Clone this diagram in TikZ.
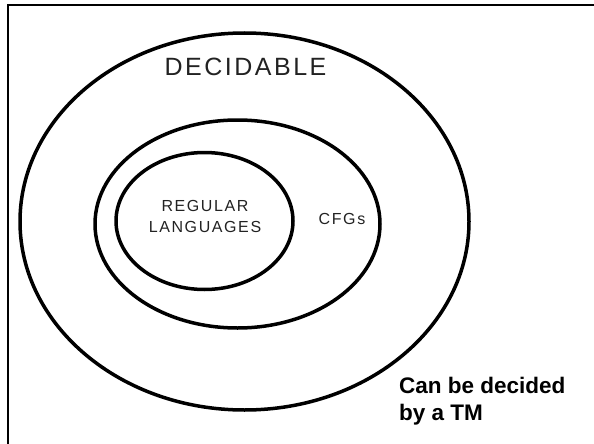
\documentclass[tikz,border=0pt]{standalone}
\usepackage{fontspec}
\setmainfont{Liberation Sans}
\newfontfamily\vennfont[LetterSpace=10]{Liberation Sans}
\usepackage{tikz}
\definecolor{labelgray}{RGB}{34,34,34}

\begin{document}
\begin{tikzpicture}[x=1pt,y=1pt]
\tikzstyle{every node}+=[inner sep=0pt]
\tikzstyle{venn}=[black, line width=3.5pt]
\tikzstyle{setlabel}=[labelgray, align=center]
\useasboundingbox (0,0) rectangle (594,-444);
\draw [black, line width=1.5pt] (8,-444) -- (8,-5) -- (594,-5);
\draw [venn] (244.5,-221.5) ellipse (224.5pt and 188.5pt);
\draw [venn] (237.5,-224) ellipse (142.5pt and 104pt);
\draw [venn] (204.5,-221) ellipse (88.5pt and 68.5pt);
\draw (245.5,-67) node (decidable) [setlabel, font=\vennfont\fontsize{25}{30}\selectfont] {DECIDABLE};
\draw (205,-216.5) node (regular) [setlabel, font=\vennfont\fontsize{16}{20.5}\selectfont] {REGULAR\\LANGUAGES};
\draw (342,-219) node (cfgs) [setlabel, font=\vennfont\fontsize{16}{20}\selectfont] {CFGs};
\draw (399,-377) node (tm) [anchor=north west, align=left, font=\bfseries\fontsize{22.5}{27}\selectfont] {Can be decided\\by a TM};
\end{tikzpicture}
\end{document}
